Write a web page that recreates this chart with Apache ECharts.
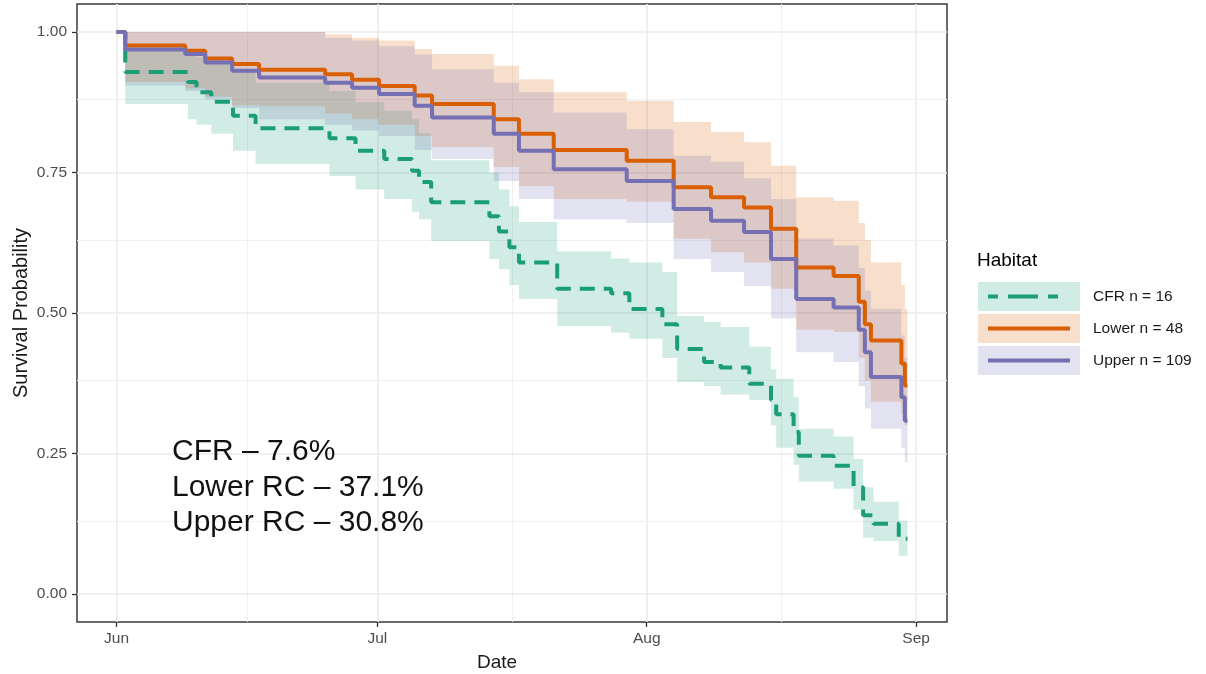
<!DOCTYPE html>
<html>
<head>
<meta charset="utf-8">
<title>Survival Probability by Habitat</title>
<script src="https://cdn.jsdelivr.net/npm/echarts@6/dist/echarts.min.js"></script>
<style>
  html, body { margin: 0; padding: 0; background: #fff; }
  #chart { width: 1206px; height: 674px; }
</style>
</head>
<body>
<div id="chart"></div>
<script>
// x values are days counted from 1 June
var monthTicks = [0, 30, 61, 92];
var monthLabels = ['Jun', 'Jul', 'Aug', 'Sep'];
var minorTicksX = [15, 45.5, 76.5];
var yTicks = [0, 0.25, 0.5, 0.75, 1];
var minorTicksY = [0.125, 0.375, 0.625, 0.875];

var habitats = ['CFR n = 16', 'Lower n = 48', 'Upper n = 109'];
var colors = ['#1b9e77', '#d95f02', '#7570b3'];
var bandFills = ['rgba(27,158,119,0.2)', 'rgba(217,95,2,0.2)', 'rgba(117,112,179,0.2)'];
var summaryText = ['CFR – 7.6%', 'Lower RC – 37.1%', 'Upper RC – 30.8%'];

// CFR
var cfrDays = [0, 1.0, 8.2, 9.2, 10.9, 13.4, 16.0, 24.5, 27.5, 30.8, 34.0, 34.8, 36.2, 42.9, 44.0, 45.2, 46.3, 50.7,
  56.9, 59.0, 62.8, 64.5, 67.6, 69.5, 72.8, 75.3, 75.9, 77.9, 78.5, 82.5, 84.8, 85.9, 87.1, 90.0, 91.0];
var cfrSurv = [1.0, 0.929, 0.911, 0.893, 0.876, 0.851, 0.829, 0.811, 0.789, 0.774, 0.753, 0.733, 0.697, 0.672, 0.645,
  0.617, 0.590, 0.543, 0.535, 0.507, 0.48, 0.436, 0.413, 0.403, 0.374, 0.345, 0.320, 0.288, 0.246, 0.228, 0.19, 0.14,
  0.125, 0.098, 0.098];
var cfrLow = [1.0, 0.872, 0.845, 0.835, 0.819, 0.789, 0.765, 0.744, 0.72, 0.703, 0.68, 0.667, 0.628, 0.596, 0.578,
  0.55, 0.525, 0.477, 0.465, 0.454, 0.42, 0.377, 0.37, 0.355, 0.345, 0.30, 0.26, 0.23, 0.2, 0.187, 0.15, 0.1, 0.094,
  0.068, 0.068];
var cfrUp = [1.0, 0.966, 0.96, 0.955, 0.95, 0.93, 0.91, 0.895, 0.875, 0.86, 0.845, 0.82, 0.772, 0.75, 0.72, 0.69,
  0.662, 0.61, 0.597, 0.59, 0.573, 0.495, 0.484, 0.475, 0.44, 0.40, 0.383, 0.35, 0.294, 0.28, 0.24, 0.19, 0.164, 0.13,
  0.13];

// Lower and Upper share the same event days
var rcDays = [0, 1.0, 7.9, 10.2, 13.3, 16.4, 24.0, 27.1, 30.2, 34.3, 36.3, 43.4, 46.3, 50.3, 58.7, 64.1, 68.4, 72.2,
  75.3, 78.2, 82.5, 85.4, 86.1, 86.8, 90.3, 90.7, 91.0];
var lowerSurv = [1.0, 0.976, 0.967, 0.953, 0.943, 0.933, 0.925, 0.915, 0.904, 0.887, 0.872, 0.845, 0.819, 0.790, 0.771,
  0.724, 0.706, 0.688, 0.650, 0.581, 0.566, 0.52, 0.48, 0.451, 0.41, 0.371, 0.371];
var lowerLow = [1.0, 0.911, 0.90, 0.885, 0.87, 0.868, 0.855, 0.845, 0.835, 0.815, 0.795, 0.76, 0.726, 0.703, 0.698,
  0.632, 0.608, 0.59, 0.543, 0.47, 0.466, 0.42, 0.38, 0.342, 0.32, 0.30, 0.30];
var lowerUp = [1.0, 1.0, 1.0, 1.0, 1.0, 1.0, 0.996, 0.99, 0.985, 0.97, 0.961, 0.94, 0.916, 0.893, 0.878, 0.84, 0.822,
  0.804, 0.762, 0.706, 0.70, 0.66, 0.63, 0.59, 0.55, 0.507, 0.507];
var upperSurv = [1.0, 0.969, 0.961, 0.946, 0.931, 0.919, 0.910, 0.901, 0.890, 0.869, 0.848, 0.819, 0.789, 0.756, 0.735,
  0.685, 0.664, 0.644, 0.596, 0.525, 0.510, 0.47, 0.43, 0.386, 0.35, 0.308, 0.308];
var upperLow = [1.0, 0.905, 0.895, 0.88, 0.865, 0.845, 0.835, 0.825, 0.815, 0.79, 0.774, 0.735, 0.703, 0.667, 0.66,
  0.596, 0.573, 0.548, 0.49, 0.43, 0.413, 0.37, 0.33, 0.294, 0.26, 0.235, 0.235];
var upperUp = [1.0, 1.0, 1.0, 1.0, 1.0, 1.0, 0.99, 0.985, 0.975, 0.96, 0.934, 0.91, 0.893, 0.857, 0.827, 0.78, 0.769,
  0.74, 0.703, 0.632, 0.62, 0.58, 0.54, 0.507, 0.46, 0.42, 0.42];

var groups = [
  { days: cfrDays, surv: cfrSurv, low: cfrLow, up: cfrUp, dash: [15, 9] },
  { days: rcDays, surv: lowerSurv, low: lowerLow, up: lowerUp, dash: 'solid' },
  { days: rcDays, surv: upperSurv, low: upperLow, up: upperUp, dash: 'solid' }
];

var FONT = 'Liberation Sans, Arial, sans-serif';

function pairs(days, vals) {
  return days.map(function (d, i) { return [d, vals[i]]; });
}

// the whole stepped ribbon is drawn once, as one polygon, through api.coord
function ribbonRenderer(g, fill) {
  return function (params, api) {
    if (params.dataIndex !== 0) return null;
    var n = g.days.length, pts = [], i;
    for (i = 0; i < n; i++) {
      pts.push(api.coord([g.days[i], g.up[i]]));
      if (i < n - 1) pts.push(api.coord([g.days[i + 1], g.up[i]]));
    }
    for (i = n - 1; i >= 0; i--) {
      if (i < n - 1) pts.push(api.coord([g.days[i + 1], g.low[i]]));
      pts.push(api.coord([g.days[i], g.low[i]]));
    }
    return { type: 'polygon', shape: { points: pts }, style: { fill: fill }, silent: true };
  };
}

var series = [];

// grid lines (theme_bw look)
var gridLines = [];
monthTicks.forEach(function (v) { gridLines.push({ xAxis: v, lineStyle: { width: 1.6, color: '#ebebeb' } }); });
minorTicksX.forEach(function (v) { gridLines.push({ xAxis: v, lineStyle: { width: 1.1, color: '#f0f0f0' } }); });
yTicks.forEach(function (v) { gridLines.push({ yAxis: v, lineStyle: { width: 1.6, color: '#ebebeb' } }); });
minorTicksY.forEach(function (v) { gridLines.push({ yAxis: v, lineStyle: { width: 1.1, color: '#f0f0f0' } }); });
series.push({
  type: 'line', name: 'grid', data: [], silent: true, z: 1,
  markLine: { silent: true, z: 1, symbol: ['none', 'none'], label: { show: false }, animation: false,
    lineStyle: { type: 'solid' }, data: gridLines }
});

// confidence bands
groups.forEach(function (g, k) {
  series.push({
    type: 'custom', name: habitats[k] + ' band', z: 2, silent: true, clip: true,
    data: g.days.map(function (d, i) { return [d, g.low[i], g.up[i]]; }),
    encode: { x: 0, y: [1, 2] },
    renderItem: ribbonRenderer(g, bandFills[k])
  });
});

// survival curves
groups.forEach(function (g, k) {
  series.push({
    type: 'line', name: habitats[k], step: 'end',
    data: pairs(g.days, g.surv), symbol: 'none', z: 3,
    lineStyle: { color: colors[k], width: 4, type: g.dash }
  });
});

// legend drawn by hand: ggplot key = filled band + line
var legendItems = [{
  type: 'text', left: 977, top: 251,
  style: { text: 'Habitat', font: '19px ' + FONT, fill: '#000' }
}];
habitats.forEach(function (h, k) {
  var top = 282 + k * 32;
  legendItems.push({
    type: 'rect', shape: { x: 978, y: top, width: 102, height: 29 },
    style: { fill: bandFills[k] }
  });
  legendItems.push({
    type: 'line', shape: { x1: 988, y1: top + 14.5, x2: 1070, y2: top + 14.5 },
    style: { stroke: colors[k], lineWidth: 4, lineDash: k === 0 ? [10, 10, 30, 10, 10, 20] : null }
  });
  legendItems.push({
    type: 'text', x: 1093, y: top + 14.5,
    style: { text: h, font: '15.5px ' + FONT, fill: '#1a1a1a', verticalAlign: 'middle' }
  });
});

var chart = echarts.init(document.getElementById('chart'), null, { renderer: 'canvas' });
chart.setOption({
  animation: false,
  backgroundColor: '#fff',
  grid: {
    left: 77, right: 259, top: 4, bottom: 52, containLabel: false, outerBoundsMode: 'none',
    show: true, backgroundColor: '#fff', borderColor: '#3a3a3a', borderWidth: 1.5
  },
  xAxis: {
    type: 'value', min: -4.55, max: 95.55,
    name: 'Date', nameLocation: 'middle', nameGap: 31,
    nameTextStyle: { fontFamily: FONT, fontSize: 19, color: '#1a1a1a', padding: [0, 30, 0, 0] },
    axisLine: { show: false, onZero: false },
    splitLine: { show: false },
    axisTick: { show: true, customValues: monthTicks, length: 5, lineStyle: { color: '#333', width: 1.3 } },
    axisLabel: {
      customValues: monthTicks, margin: 9, color: '#4d4d4d', fontFamily: FONT, fontSize: 15.5,
      formatter: function (v) { return monthLabels[monthTicks.indexOf(v)]; }
    }
  },
  yAxis: {
    type: 'value', min: -0.05, max: 1.05,
    name: 'Survival Probability', nameLocation: 'middle', nameGap: 46, nameMoveOverlap: false,
    nameTextStyle: { fontFamily: FONT, fontSize: 20, color: '#1a1a1a' },
    axisLine: { show: false, onZero: false },
    splitLine: { show: false },
    axisTick: { show: true, customValues: yTicks, length: 5, lineStyle: { color: '#333', width: 1.3 } },
    axisLabel: {
      customValues: yTicks, margin: 10, color: '#4d4d4d', fontFamily: FONT, fontSize: 15.5,
      formatter: function (v) { return v.toFixed(2); }
    }
  },
  graphic: [
    {
      type: 'text', left: 172, top: 434, z: 10,
      style: { text: summaryText.join('\n'), font: '30px ' + FONT, lineHeight: 35.5, fill: '#111' }
    },
    { type: 'group', children: legendItems }
  ],
  series: series
});
</script>
</body>
</html>
